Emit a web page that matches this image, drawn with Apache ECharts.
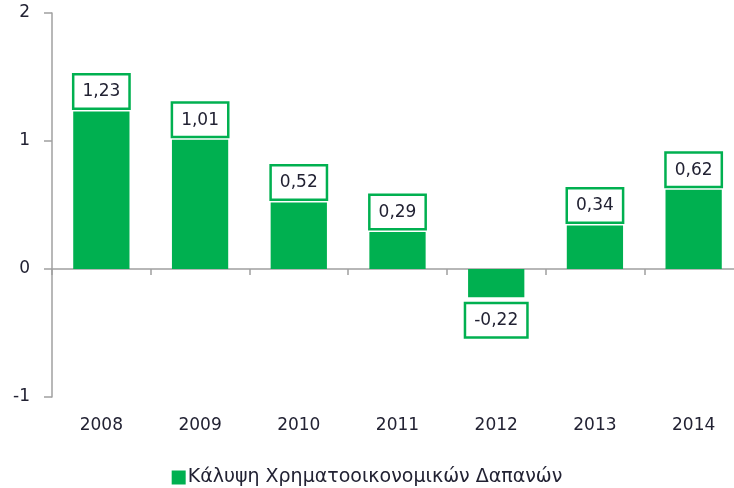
<!DOCTYPE html>
<html><head><meta charset="utf-8">
<script src="https://cdn.jsdelivr.net/npm/echarts@6/dist/echarts.min.js"></script>
<style>html,body{margin:0;padding:0;background:#fff}#c{width:734px;height:488px}</style>
</head><body><div id="c"></div>
<script>
const categories = ['2008','2009','2010','2011','2012','2013','2014'];
const values = [1.23, 1.01, 0.52, 0.29, -0.22, 0.34, 0.62];
const yTicks = [-1, 0, 1, 2];
const seriesName = 'Κάλυψη Χρηματοοικονομικών Δαπανών';
const green = '#00b050';
const font = 'DejaVu Sans, sans-serif';
const textColor = '#222233';
const chart = echarts.init(document.getElementById('c'));
chart.setOption({
  animation: false,
  grid: {left: 52, width: 691, top: 13, height: 384, containLabel: false, outerBoundsMode: 'none'},
  legend: {
    top: 463, left: 'center', itemWidth: 14, itemHeight: 14, itemGap: 10,
    icon: 'rect',
    textStyle: {fontFamily: font, fontSize: 19, color: textColor, padding: [0, 0, 0, -3]},
    data: [seriesName]
  },
  xAxis: [{
    type: 'category', data: categories,
    axisLine: {onZero: true, lineStyle: {color: '#a0a0a0', width: 1.5}},
    axisTick: {show: true, length: 6, lineStyle: {color: '#a0a0a0', width: 1.5}},
    axisLabel: {show: false}
  }, {
    type: 'category', data: categories, position: 'bottom',
    axisLine: {show: false, onZero: false}, axisTick: {show: false},
    axisLabel: {fontFamily: font, fontSize: 17, color: textColor, margin: 20}
  }],
  yAxis: {
    type: 'value', min: yTicks[0], max: yTicks[yTicks.length - 1], interval: 1,
    axisLine: {show: true, lineStyle: {color: '#a0a0a0', width: 1.5}},
    axisTick: {show: true, length: 8, lineStyle: {color: '#a0a0a0', width: 1.5}},
    splitLine: {show: false},
    axisLabel: {fontFamily: font, fontSize: 17, color: textColor, margin: 22}
  },
  series: [{
    name: seriesName, type: 'bar', xAxisIndex: 0,
    data: values.map(v => v < 0 ? {value: v, label: {position: 'bottom', distance: 7}} : v),
    barWidth: '57%',
    itemStyle: {color: green},
    label: {
      show: true, position: 'top', distance: 4,
      formatter: p => p.value.toFixed(2).replace('.', ','),
      fontFamily: font, fontSize: 17, color: textColor,
      backgroundColor: '#fff', borderColor: green, borderWidth: 2.5,
      padding: [8, 8, 7, 8]
    }
  }]
});
</script></body></html>
